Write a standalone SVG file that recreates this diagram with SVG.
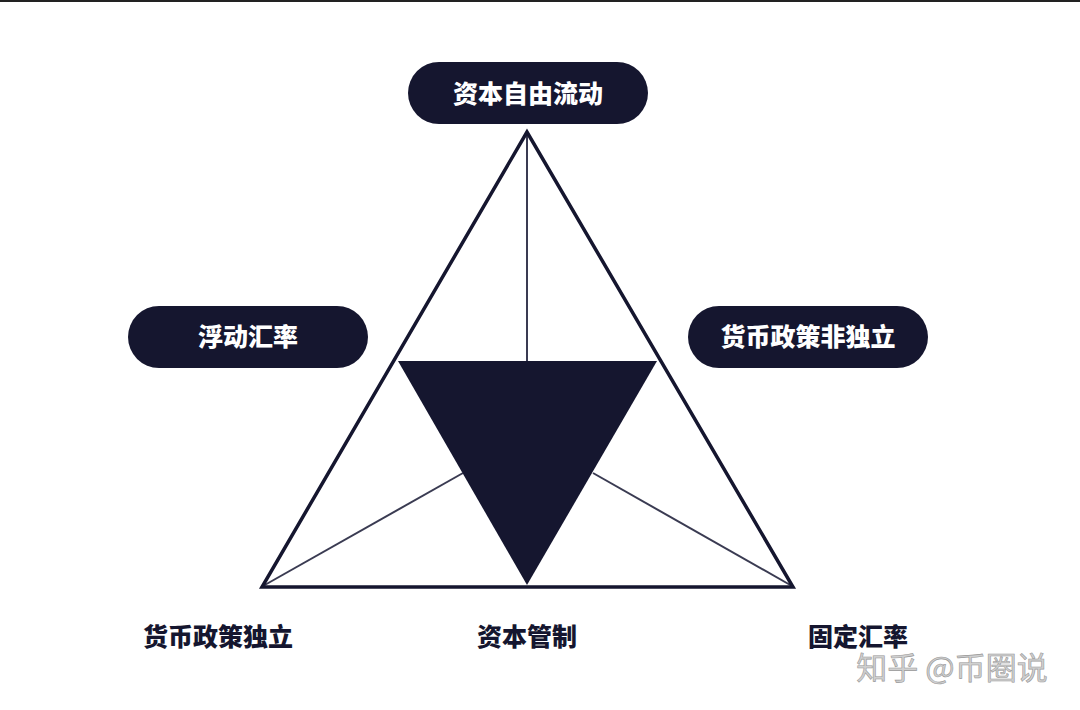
<svg xmlns="http://www.w3.org/2000/svg" width="1080" height="710" viewBox="0 0 1080 710">
<style>
.pill{fill:#15162f}
.pt{font-family:"Noto Sans CJK SC","Noto Sans",sans-serif;font-weight:900;font-size:25px;fill:#ffffff;text-anchor:middle}
.lb{font-family:"Noto Sans CJK SC","Noto Sans",sans-serif;font-weight:900;font-size:25px;fill:#15162f;text-anchor:middle}
.thin{stroke:#3a3b52;stroke-width:2;fill:none}
</style>
<rect x="0" y="0" width="1080" height="710" fill="#ffffff"/>
<line x1="0" y1="1" x2="1080" y2="1" stroke="#222" stroke-width="2"/>
<g id="connectors">
<line class="thin" x1="527" y1="132" x2="527" y2="362"/>
<line class="thin" x1="263" y1="586" x2="463" y2="473"/>
<line class="thin" x1="593" y1="473" x2="792" y2="586"/>
<polygon points="527,132 262,587 793,587" fill="none" stroke="#15162f" stroke-width="3.5" stroke-linejoin="miter"/>
</g>
<g id="inner-triangle">
<polygon points="398,361 657,361 527,585" fill="#15162f"/>
</g>
<g id="node-top">
<rect class="pill" x="408" y="62" width="240" height="62" rx="31"/>
<text class="pt" x="528" y="103">资本自由流动</text>
</g>
<g id="node-left">
<rect class="pill" x="128" y="306" width="240" height="62" rx="31"/>
<text class="pt" x="248" y="346">浮动汇率</text>
</g>
<g id="node-right">
<rect class="pill" x="688" y="306" width="240" height="62" rx="31"/>
<text class="pt" x="808" y="346">货币政策非独立</text>
</g>
<g id="label-bl"><text class="lb" x="218" y="646">货币政策独立</text></g>
<g id="label-bc"><text class="lb" x="527" y="646">资本管制</text></g>
<g id="label-br"><text class="lb" x="858" y="646">固定汇率</text></g>
<text x="952" y="679" font-family="Noto Sans CJK SC,sans-serif" font-size="31" fill="#d0d0d0" stroke="#999" stroke-width="0.6" text-anchor="middle">知乎 @币圈说</text>
</svg>
